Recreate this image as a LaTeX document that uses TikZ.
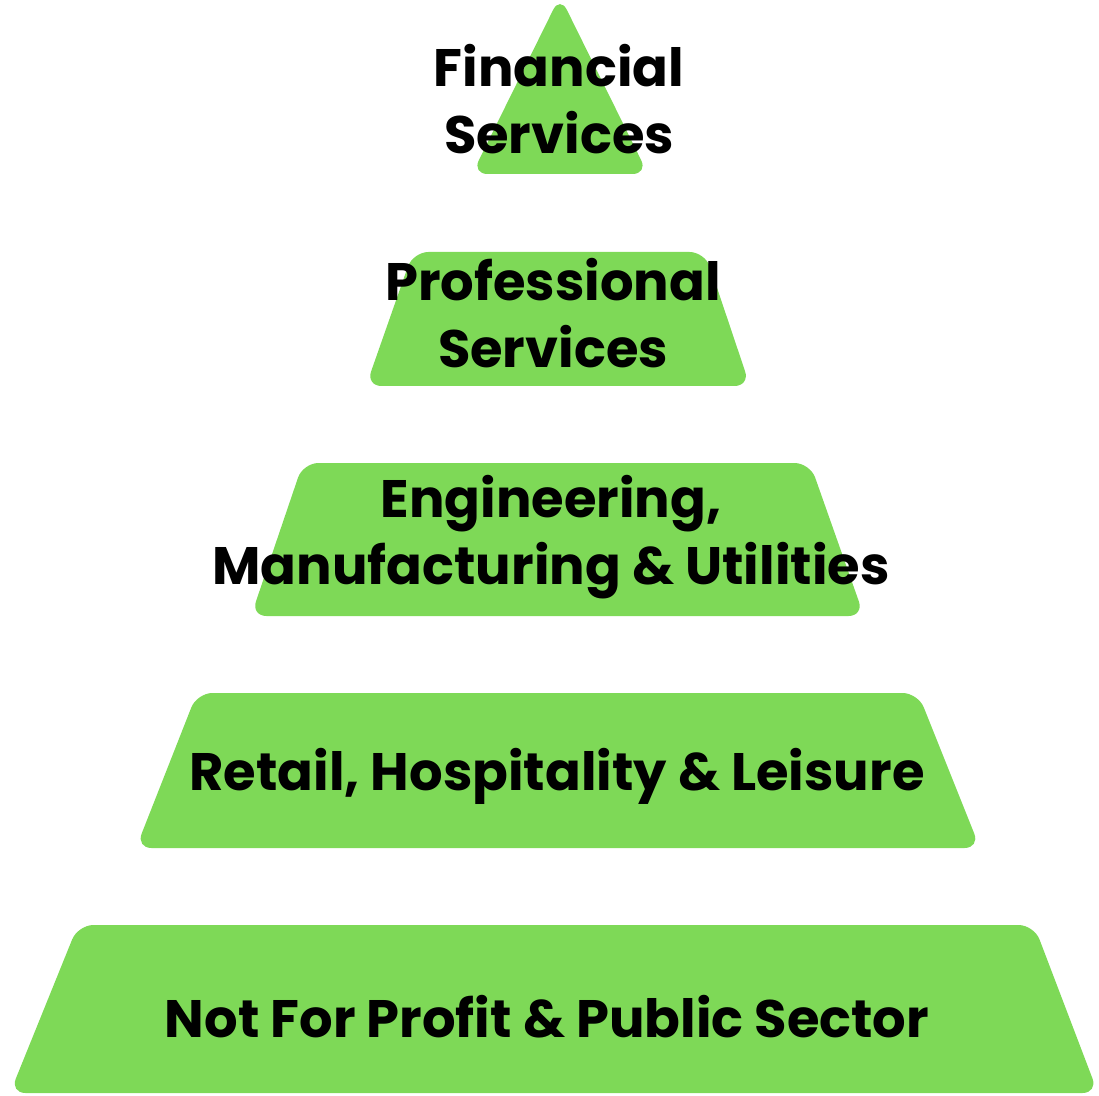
\documentclass[tikz,border=0pt]{standalone}
\usepackage{fontspec}
\setmainfont{Poppins}
\definecolor{tiergreen}{RGB}{126,217,87}

\begin{document}
\begin{tikzpicture}[
    x=0.025cm, y=-0.025cm,
    tier/.style={fill=tiergreen, rounded corners=11pt},
    tiertext/.style={align=center, text=black, font=\fontsize{37.5}{48}\selectfont\bfseries},
]
\useasboundingbox (0,0) rectangle (1099,1096);

% Tiers, top to bottom
\fill[tier] (560,-4) -- (648,174) -- (472,174) -- cycle;
\fill[tier] (413,252) -- (705,252) -- (750,386) -- (366,386) -- cycle;
\fill[tier] (303,463) -- (810,463) -- (864,616) -- (251,616) -- cycle;
\fill[tier] (197,693) -- (918,693) -- (980,848) -- (136,848) -- cycle;
\fill[tier] (78,925) -- (1034,925) -- (1098,1093) -- (10,1093) -- cycle;

% Labels
\node[tiertext] (fin) at (559,99) {Financial\\Services};
\node[tiertext] (prof) at (553,313) {Professional\\Services};
\node[tiertext] (eng) at (551,537) {Engineering,\\Manufacturing \& Utilities};
\node[tiertext] (ret) at (557,776) {Retail, Hospitality \& Leisure};
\node[tiertext] (npo) at (547,1017) {Not For Profit \& Public Sector};

\end{tikzpicture}
\end{document}
